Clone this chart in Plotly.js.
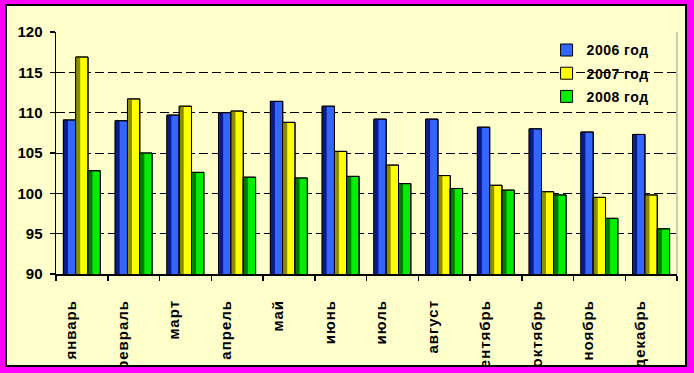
<!DOCTYPE html>
<html>
<head>
<meta charset="utf-8">
<script src="https://cdn.plot.ly/plotly-3.0.1.min.js"></script>
<style>
html,body{margin:0;padding:0;background:#FF00FF;}
#wrap{position:relative;width:694px;height:373px;overflow:hidden;background:#FF00FF;}
#bg{position:absolute;left:5px;top:4px;width:682px;height:363px;box-sizing:border-box;border:2px solid #000;background:#FFFFCC;z-index:0;}
#chart{position:absolute;left:0;top:0;width:694px;height:373px;z-index:1;}
#chart .xtick text{letter-spacing:1px;}
#chart .legendtext{letter-spacing:0.5px;}
.mg{position:absolute;background:#FF00FF;z-index:2;}
#frame{position:absolute;left:5px;top:4px;width:682px;height:363px;box-sizing:border-box;border:2px solid #000;z-index:3;pointer-events:none;}
</style>
</head>
<body>
<div id="wrap">
  <div id="bg"></div>
  <div id="chart"></div>
  <div class="mg" style="left:0;top:0;width:694px;height:4px"></div>
  <div class="mg" style="left:0;top:367px;width:694px;height:6px"></div>
  <div class="mg" style="left:0;top:0;width:5px;height:373px"></div>
  <div class="mg" style="left:687px;top:0;width:7px;height:373px"></div>
  <div id="frame"></div>
</div>
<script>
const months = ["январь","февраль","март","апрель","май","июнь","июль","август","сентябрь","октябрь","ноябрь","декабрь"];
const seriesNames = ["2006 год","2007 год","2008 год"];
const y2006 = [109.1,109.0,109.7,110.0,111.4,110.8,109.2,109.2,108.2,108.0,107.6,107.3];
const y2007 = [116.9,111.7,110.8,110.2,108.8,105.2,103.5,102.2,101.0,100.2, 99.5, 99.8];
const y2008 = [102.8,105.0,102.6,102.0,101.9,102.1,101.2,100.6,100.4, 99.8, 96.9, 95.6];
const yTicks = [90,95,100,105,110,115,120];

const series = [y2006, y2007, y2008];
const brightColors = ["#3366FF","#FFFF00","#00EE00"];
const darkColors = ["#0A1A8A","#8C8C00","#007A00"];
const barW = 0.238;
const offsets = [-0.357, -0.119, 0.119];

const font = "Arial, 'Liberation Sans', sans-serif";
const traces = [];
series.forEach((vals, i) => {
  traces.push({type:"bar", x:months, y:vals, name:seriesNames[i], legendgroup:"g"+i,
    width:barW, offset:offsets[i],
    marker:{color:brightColors[i], line:{color:"#000", width:1}}, hoverinfo:"y"});
  traces.push({type:"bar", x:months, y:vals, showlegend:false, legendgroup:"g"+i,
    width:0.075, offset:offsets[i]+0.012,
    marker:{color:darkColors[i], line:{width:0}}, hoverinfo:"skip"});
  traces.push({type:"bar", x:months, y:vals, showlegend:false, legendgroup:"g"+i,
    width:barW, offset:offsets[i],
    marker:{color:"rgba(0,0,0,0)", line:{color:"#000", width:1}}, hoverinfo:"skip"});
});

const layout = {
  width:694, height:373,
  margin:{l:56, r:17, t:32, b:99, pad:0},
  paper_bgcolor:"rgba(0,0,0,0)",
  plot_bgcolor:"rgba(0,0,0,0)",
  barmode:"overlay",
  font:{family:font, size:15, color:"#000"},
  showlegend:true,
  legend:{x:0.79, xanchor:"left", y:0.99, yanchor:"top",
    bgcolor:"rgba(0,0,0,0)", borderwidth:0,
    font:{family:font, size:14, color:"#000", weight:"bold"},
    traceorder:"grouped", tracegroupgap:2},
  xaxis:{type:"category", categoryorder:"array", categoryarray:months,
    range:[-0.5, 11.5],
    showline:true, linecolor:"#000", linewidth:2,
    ticks:"outside", ticklen:5, tickcolor:"#000", tickwidth:1.5,
    tickson:"boundaries", showgrid:false,
    tickangle:-90, ticklabelstandoff:18, ticklabelshift:-11,
    tickfont:{family:font, size:15, color:"#000", weight:"bold"},
    fixedrange:true},
  yaxis:{range:[90,120], tickvals:yTicks, ticktext:yTicks.map(String),
    showline:true, linecolor:"#000", linewidth:1.5,
    ticks:"outside", ticklen:5, tickcolor:"#000", tickwidth:1.5,
    showgrid:true, gridcolor:"#000", gridwidth:1, griddash:"9px,4px",
    zeroline:false, ticklabelstandoff:4,
    tickfont:{family:font, size:15, color:"#000", weight:"bold"},
    fixedrange:true},
  shapes:[{type:"line", xref:"paper", yref:"paper", x0:1, x1:1, y0:0, y1:1,
    line:{color:"#999999", width:1}}]
};

Plotly.newPlot("chart", traces, layout, {displayModeBar:false, staticPlot:true});
</script>
</body>
</html>
